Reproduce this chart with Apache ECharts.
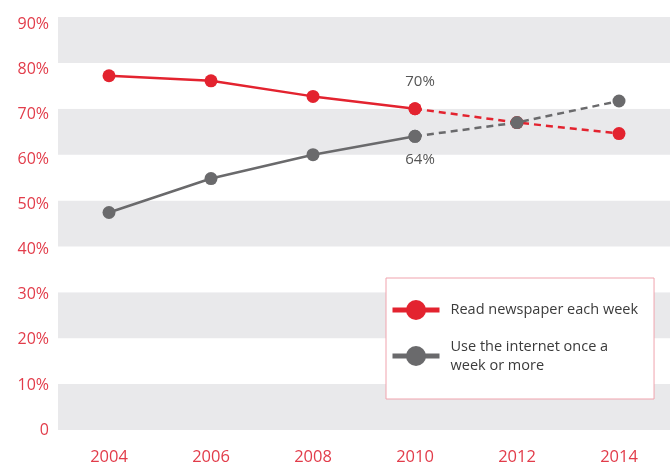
<!DOCTYPE html>
<html>
<head>
<meta charset="utf-8">
<script src="https://cdn.jsdelivr.net/npm/echarts@6/dist/echarts.min.js"></script>
<style>
  html, body { margin: 0; padding: 0; background: #ffffff; }
  #chart { width: 670px; height: 466px; }
</style>
</head>
<body>
<div id="chart"></div>
<script>
// Survey years and share of people (%) for each habit
const years = ['2004', '2006', '2008', '2010', '2012', '2014'];
const newspaperShare = [77.2, 76.1, 72.7, 70, 67.0, 64.6];
const internetShare = [47.4, 54.8, 60.0, 64, 67.0, 71.7];
// Index of the last measured year; later years are projections (dashed)
const lastActualIndex = 3;
const yTicks = [0, 10, 20, 30, 40, 50, 60, 70, 80, 90];

const NEWS_NAME = 'Read newspaper each week';
const NET_NAME = 'Use the internet once a week or more';

const RED = '#e3232f';
const GREY = '#6a6a6c';
const TICK_RED = '#e23c4a';
const FONT = 'Open Sans';

const actual = arr => arr.map((v, i) => (i <= lastActualIndex ? v : '-'));
const projected = arr => arr.map((v, i) => (i >= lastActualIndex ? v : '-'));

function withLabel(arr, pos, dist) {
  return actual(arr).map((v, i) =>
    i === lastActualIndex
      ? { value: v, label: { show: true, position: pos, distance: dist, offset: [5, 0],
          formatter: p => Math.round(p.value) + '%', color: '#555', fontSize: 15,
          fontFamily: FONT } }
      : v);
}

// Tick labels sit slightly lower toward the top of the axis
const tickRich = {};
yTicks.forEach(t => {
  tickRich['t' + t] = {
    color: TICK_RED, fontSize: 16, fontFamily: FONT,
    padding: [Math.round(t * 0.16), 0, 0, 0]
  };
});

const chart = echarts.init(document.getElementById('chart'), null, { renderer: 'canvas' });

const lineBase = (color, dashed) => ({
  type: 'line',
  symbol: 'circle',
  symbolSize: 13,
  itemStyle: { color: color },
  lineStyle: { color: color, width: 2.5, type: dashed ? [7, 5] : 'solid' },
  emphasis: { disabled: true },
  animation: false
});

chart.setOption({
  backgroundColor: '#ffffff',
  grid: { left: 58, right: 0, top: 17, bottom: 35 },
  xAxis: {
    type: 'category',
    data: years,
    boundaryGap: true,
    axisLine: { show: false },
    axisTick: { show: false },
    axisLabel: { color: TICK_RED, fontSize: 16.5, margin: 19, fontFamily: FONT }
  },
  yAxis: {
    type: 'value',
    min: yTicks[0],
    max: yTicks[yTicks.length - 1],
    interval: 10,
    axisLine: { show: false },
    axisTick: { show: false },
    splitLine: { show: false },
    splitArea: { show: true, areaStyle: { color: ['#e9e9eb', '#ffffff'] } },
    axisLabel: {
      margin: 9,
      formatter: v => '{t' + v + '|' + (v === 0 ? '0' : v + '%') + '}',
      rich: tickRich
    }
  },
  legend: {
    orient: 'vertical',
    left: 386,
    top: 278,
    data: [NEWS_NAME, NET_NAME],
    itemWidth: 47,
    itemHeight: 25,
    itemGap: 17,
    padding: [22, 16, 24, 4],
    backgroundColor: '#ffffff',
    borderColor: '#f0a3ad',
    borderWidth: 1,
    borderRadius: 0,
    lineStyle: { width: 5 },
    selectedMode: false,
    textStyle: { color: '#3b3b3b', fontSize: 14.5, lineHeight: 19, fontFamily: FONT,
                 padding: [0, 0, 0, 6] },
    formatter: name => (name === NET_NAME ? 'Use the internet once a\nweek or more' : name)
  },
  series: [
    Object.assign(lineBase(RED, false), { name: NEWS_NAME, data: withLabel(newspaperShare, 'top', 13), z: 3 }),
    Object.assign(lineBase(RED, true), { name: NEWS_NAME + ' (projected)', data: projected(newspaperShare), z: 3 }),
    Object.assign(lineBase(GREY, false), { name: NET_NAME, data: withLabel(internetShare, 'bottom', 9), z: 4 }),
    Object.assign(lineBase(GREY, true), { name: NET_NAME + ' (projected)', data: projected(internetShare), z: 4 })
  ]
});
</script>
</body>
</html>
